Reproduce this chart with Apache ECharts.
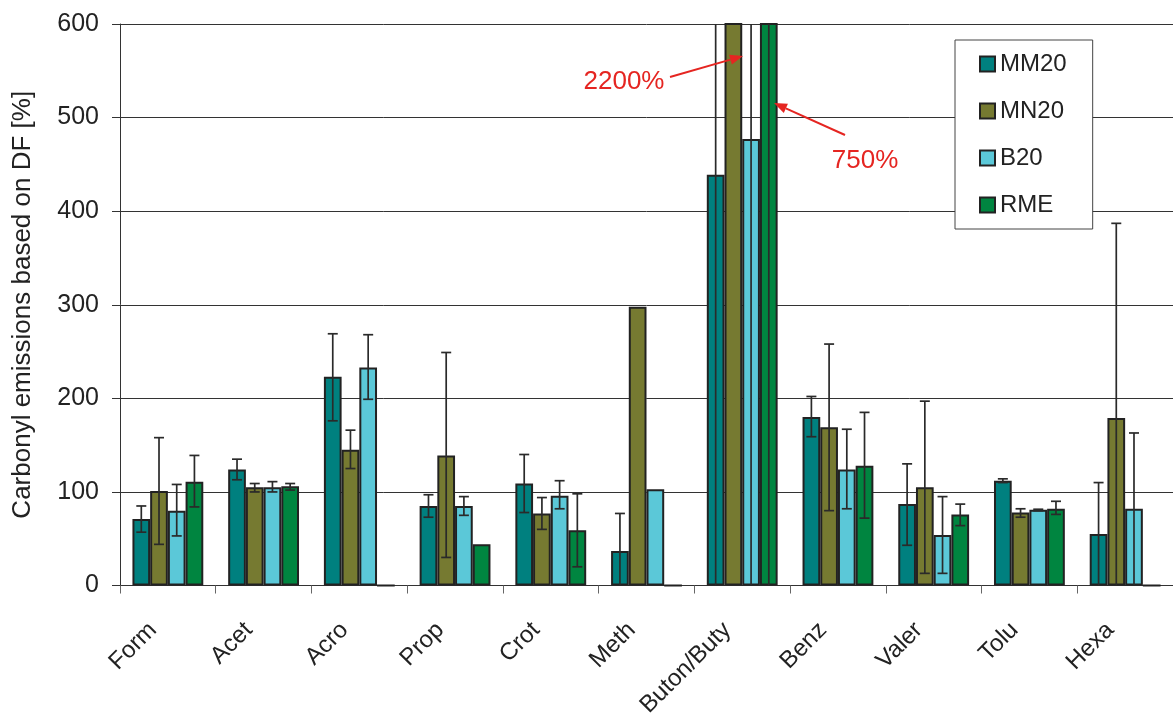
<!DOCTYPE html>
<html>
<head>
<meta charset="utf-8">
<script src="https://cdn.jsdelivr.net/npm/echarts@6/dist/echarts.min.js"></script>
<style>
html,body{margin:0;padding:0;background:#fff;}
#chart{width:1173px;height:720px;}
</style>
</head>
<body>
<div id="chart"></div>
<script>
const categories = ['Form','Acet','Acro','Prop','Crot','Meth','Buton/Buty','Benz','Valer','Tolu','Hexa'];
const seriesNames = ['MM20','MN20','B20','RME'];

const MM20 = [71, 124, 223, 85, 109, 37, 439, 180, 87, 112, 55];
const MN20 = [101, 105, 145, 139, 77, 298, 2200, 169, 105, 78, 179];
const B20  = [80, 105, 233, 85, 96, 103, 477, 124, 54, 81, 82];
const RME  = [111, 106, 0, 44, 59, 0, 750, 128, 76, 82, 0];

const MM20_lo = [57, 113, 176, 73, 78, 0, 0, 159, 43, 110, 0];
const MM20_hi = [85, 135, 269, 97, 140, 77, 900, 202, 130, 114, 110];
const MN20_lo = [44, 100, 125, 30, 60, null, null, 80, 13, 73, 0];
const MN20_hi = [158, 109, 166, 249, 94, null, null, 258, 197, 82, 387];
const B20_lo  = [53, 100, 199, 75, 82, null, 0, 82, 13, 80, 0];
const B20_hi  = [108, 111, 268, 95, 112, null, 900, 167, 95, 81.5, 163];
const RME_lo  = [84, 102, null, null, 20, null, 0, 72, 64, 76, null];
const RME_hi  = [139, 109, null, null, 98, null, 900, 185, 87, 90, null];

const yTicks = [0, 100, 200, 300, 400, 500, 600];

const colors = ['#00807f', '#767a31', '#5bc8d8', '#008540'];
const values = [MM20, MN20, B20, RME];
const lows = [MM20_lo, MN20_lo, B20_lo, RME_lo];
const highs = [MM20_hi, MN20_hi, B20_hi, RME_hi];

const FONT = 'Liberation Sans, Arial, sans-serif';
const CAT_GAP = 0.26;
const Y_MIN = yTicks[0], Y_MAX = yTicks[yTicks.length - 1];

function errRenderer(si) {
  return function (params, api) {
    const ci = api.value(0);
    let lo = api.value(1), hi = api.value(2);
    const bandW = api.size([1, 0])[0];
    const gw = bandW * (1 - CAT_GAP);
    const bw = gw / 4;
    const cx = api.coord([ci, 0])[0] - gw / 2 + bw * (si + 0.5);
    const loC = Math.max(Y_MIN, lo), hiC = Math.min(Y_MAX, hi);
    const yLo = api.coord([ci, loC])[1];
    const yHi = api.coord([ci, hiC])[1];
    const cap = 5;
    const st = { stroke: '#2a2a2a', lineWidth: 1.7 };
    const children = [{ type: 'line', shape: { x1: cx, y1: yLo, x2: cx, y2: yHi }, style: st }];
    if (hi <= Y_MAX) children.push({ type: 'line', shape: { x1: cx - cap, y1: yHi, x2: cx + cap, y2: yHi }, style: st });
    if (lo > Y_MIN) children.push({ type: 'line', shape: { x1: cx - cap, y1: yLo, x2: cx + cap, y2: yLo }, style: st });
    return { type: 'group', children: children };
  };
}

const series = [];
seriesNames.forEach((n, i) => {
  series.push({
    name: n,
    type: 'bar',
    data: values[i],
    barGap: '0%',
    barCategoryGap: (CAT_GAP * 100) + '%',
    itemStyle: { color: colors[i], borderColor: '#222', borderWidth: 2 },
    clip: true,
    z: 2
  });
});
seriesNames.forEach((n, i) => {
  const d = [];
  categories.forEach((c, ci) => {
    if (lows[i][ci] !== null && highs[i][ci] !== null) d.push([ci, lows[i][ci], highs[i][ci]]);
  });
  series.push({
    name: n + ' err',
    type: 'custom',
    renderItem: errRenderer(i),
    data: d,
    encode: { x: 0, y: [1, 2] },
    z: 5,
    silent: true
  });
});

function arrow(x1, y1, x2, y2, color) {
  const dx = x2 - x1, dy = y2 - y1, L = Math.sqrt(dx * dx + dy * dy);
  const ux = dx / L, uy = dy / L, nx = -uy, ny = ux;
  const hl = 13, hw = 5;
  const bx = x2 - ux * hl, by = y2 - uy * hl;
  return [
    { type: 'line', shape: { x1: x1, y1: y1, x2: bx, y2: by }, style: { stroke: color, lineWidth: 2 }, z: 100 },
    { type: 'polygon', shape: { points: [[x2, y2], [bx + nx * hw, by + ny * hw], [bx - nx * hw, by - ny * hw]] }, style: { fill: color }, z: 100 }
  ];
}
const RED = '#e52521';

const chart = echarts.init(document.getElementById('chart'), null, { renderer: 'canvas' });
chart.setOption({
  animation: false,
  backgroundColor: '#fff',
  textStyle: { fontFamily: FONT },
  grid: { left: 120, right: -8, top: 24, bottom: 133, containLabel: false },
  legend: {
    data: seriesNames,
    orient: 'vertical',
    left: 955,
    top: 40,
    padding: [12, 26, 12, 24],
    itemGap: 23,
    itemWidth: 15,
    itemHeight: 15,
    icon: 'rect',
    backgroundColor: '#fff',
    borderColor: '#444',
    borderWidth: 1,
    borderRadius: 0,
    textStyle: { fontSize: 24, color: '#222', fontFamily: FONT },
    z: 20
  },
  xAxis: {
    type: 'category',
    data: categories,
    axisLine: { lineStyle: { color: '#333', width: 1 } },
    axisTick: { show: true, length: 8, alignWithLabel: false, lineStyle: { color: '#666' } },
    axisLabel: { interval: 0, rotate: 45, fontSize: 24, color: '#222', margin: 26, padding: [0, 21, 0, 0], fontFamily: FONT },
    splitLine: { show: false }
  },
  yAxis: {
    type: 'value',
    min: Y_MIN,
    max: Y_MAX,
    interval: 100,
    name: 'Carbonyl emissions based on DF [%]',
    nameLocation: 'middle',
    nameGap: 84,
    nameTextStyle: { fontSize: 26, color: '#222', fontFamily: FONT },
    axisLine: { show: true, lineStyle: { color: '#333', width: 1 } },
    axisTick: { show: true, length: 8, lineStyle: { color: '#333' } },
    axisLabel: { fontSize: 25, color: '#222', margin: 21, fontFamily: FONT },
    splitLine: { show: true, lineStyle: { color: '#333', width: 1 } }
  },
  series: series,
  graphic: [
    ...arrow(670, 77, 743, 56, RED),
    ...arrow(845, 135, 774, 103, RED),
    { type: 'text', x: 624, y: 82, z: 100, style: { text: '2200%', fill: RED, font: '26px ' + FONT, align: 'center', verticalAlign: 'middle', textAlign: 'center', textVerticalAlign: 'middle' } },
    { type: 'text', x: 865, y: 161, z: 100, style: { text: '750%', fill: RED, font: '26px ' + FONT, align: 'center', verticalAlign: 'middle', textAlign: 'center', textVerticalAlign: 'middle' } }
  ]
});
</script>
</body>
</html>
